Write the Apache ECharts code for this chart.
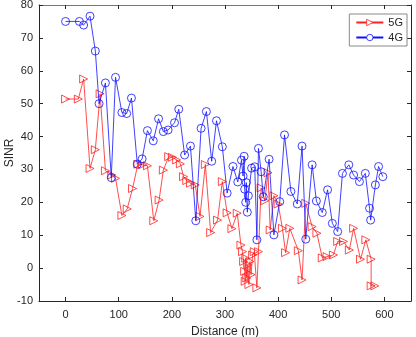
<!DOCTYPE html>
<html>
<head>
<meta charset="utf-8">
<script src="https://cdn.jsdelivr.net/npm/echarts@6/dist/echarts.min.js"></script>
<style>
  html, body { margin: 0; padding: 0; background: #fff; }
  #chart { width: 416px; height: 337px; }
</style>
</head>
<body>
<div id="chart"></div>
<script>
// 5G measurements (red, triangles)
const distance5G = [0, 24, 34, 46, 56, 65, 75, 87, 94, 106, 116, 126, 136, 145, 154, 166, 176, 184, 194, 201,
  209, 216, 222, 228, 235, 244, 253, 263, 273, 286, 295, 304, 313, 323, 330, 333, 335, 337, 338, 339,
  341, 343, 345, 347, 349, 352, 355, 360, 363, 368, 375, 381, 385, 392, 400, 408, 414, 422, 438, 445,
  452, 464, 473, 483, 492, 504, 512, 523, 534, 542, 555, 565, 575, 575, 582];
const sinr5G = [51.4, 51.4, 57.5, 30.3, 36, 53, 29.6, 28.3, 27.3, 16, 18, 24.2, 31.6, 31.4, 31.1, 14.4, 20.7, 29.8, 33.9, 33.7,
  32.9, 31.7, 27.8, 26.6, 25.8, 25.3, 15.7, 31.5, 10.8, 14.6, 26.3, 16.8, 12, 16.7, 7, 5, 2, -1, -4, 3,
  -3, 1, -5, 2, -2, 4, 5, -6, 5, 24.4, 20.5, 29, 11.6, 22, 19.5, 12.1, 4.7, 12.1, 5.3, -3.6,
  19.7, 12.6, 10.6, 3.1, 3.5, 4, 8.1, 8.1, 5.5, 12.1, 2.7, 8.6, 2.7, -5.4, -5.4];

// 4G measurements (blue, circles)
const distance4G = [0, 26, 34, 46, 56, 63, 75, 86, 94, 106, 115, 124, 135, 144, 154, 165, 175, 184, 193, 205,
  213, 224, 235, 245, 255, 265, 275, 284, 295, 304, 315, 324, 331, 334, 336, 337, 339, 340, 342, 344,
  350, 356, 360, 363, 368, 372, 383, 392, 403, 412, 424, 436, 445, 452, 464, 472, 483, 493, 502, 512,
  521, 533, 542, 553, 564, 572, 574, 583, 589, 597];
const sinr4G = [75, 75, 73.9, 76.6, 66, 50, 56.3, 27.5, 58, 47.3, 47, 51.7, 31.6, 33.2, 41.8, 38.7, 45.4, 41.5, 42, 44.2,
  48.3, 34.4, 37.1, 14.4, 42.5, 47.6, 32.5, 44.8, 36.9, 22.8, 30.9, 26.2, 32.8, 28, 34, 24, 20, 26, 17, 22,
  30.4, 30.8, 8.6, 36.4, 29.3, 21.7, 33.1, 10.1, 20.2, 40.5, 23.3, 19.5, 37.1, 8.8, 31.4, 20.4, 16.9, 23.8, 13.6, 11.1,
  28.8, 31.4, 28.3, 26.3, 28.8, 18.2, 14.6, 25.3, 30.9, 27.8];

const seriesNames = ["5G", "4G"];
const xTickValues = [0, 100, 200, 300, 400, 500, 600];
const yTicks = { min: -10, max: 80, interval: 10 };

const pairs = (xs, ys) => xs.map((x, i) => [x, ys[i]]);

const red = "#ff2020";
const blue = "#1010ff";
const clear = "rgba(255,255,255,0)";
const axisColor = "#262626";
const font = "Liberation Sans, Arial, sans-serif";
const labelStyle = { color: "#262626", fontSize: 11, fontFamily: font };

const chart = echarts.init(document.getElementById("chart"));
chart.setOption({
  animation: false,
  backgroundColor: "#fff",
  grid: { left: 39, right: 5, top: 5, bottom: 36, containLabel: false, outerBoundsMode: "none" },
  legend: {
    data: seriesNames,
    orient: "vertical",
    right: 9,
    top: 14,
    itemWidth: 27,
    itemHeight: 8,
    itemGap: 4,
    padding: [3, 4, 3, 6],
    itemStyle: { color: "#fff", borderColor: "inherit", borderWidth: 0.8 },
    borderColor: "#888",
    borderWidth: 1,
    borderRadius: 0,
    backgroundColor: "#fff",
    textStyle: labelStyle
  },
  xAxis: [
    {
      type: "value",
      min: -50, max: 650,
      name: "Distance (m)", nameLocation: "middle", nameGap: 25,
      nameTextStyle: { color: "#262626", fontSize: 12, fontFamily: font },
      axisLine: { onZero: false, lineStyle: { color: axisColor, width: 1 } },
      axisTick: { inside: true, length: 4, customValues: xTickValues, lineStyle: { color: axisColor } },
      axisLabel: Object.assign({ margin: 8, customValues: xTickValues }, labelStyle),
      splitLine: { show: false }
    },
    {
      type: "value", position: "top",
      min: -50, max: 650,
      axisLine: { show: true, onZero: false, lineStyle: { color: "#777", width: 1 } },
      axisTick: { inside: true, length: 4, customValues: xTickValues, lineStyle: { color: axisColor } },
      axisLabel: { show: false },
      splitLine: { show: false }
    }
  ],
  yAxis: [
    {
      type: "value",
      min: yTicks.min, max: yTicks.max, interval: yTicks.interval,
      name: "SINR", nameLocation: "middle", nameGap: 23, nameMoveOverlap: false,
      nameTextStyle: { color: "#262626", fontSize: 12, fontFamily: font },
      axisLine: { show: true, onZero: false, lineStyle: { color: axisColor, width: 1 } },
      axisTick: { show: true, inside: true, length: 4, lineStyle: { color: axisColor } },
      axisLabel: Object.assign({ margin: 6 }, labelStyle),
      splitLine: { show: false }
    },
    {
      type: "value", position: "right",
      min: yTicks.min, max: yTicks.max, interval: yTicks.interval,
      axisLine: { show: true, onZero: false, lineStyle: { color: axisColor, width: 1 } },
      axisTick: { show: true, inside: true, length: 4, lineStyle: { color: axisColor } },
      axisLabel: { show: false },
      splitLine: { show: false }
    }
  ],
  series: [
    {
      name: seriesNames[0],
      type: "line",
      data: pairs(distance5G, sinr5G),
      symbol: "triangle",
      symbolRotate: -90,
      symbolSize: 8,
      showAllSymbol: true,
      lineStyle: { color: red, width: 0.8 },
      itemStyle: { color: clear, borderColor: red, borderWidth: 0.8 },
      z: 2
    },
    {
      name: seriesNames[1],
      type: "line",
      data: pairs(distance4G, sinr4G),
      symbol: "circle",
      symbolSize: 8,
      showAllSymbol: true,
      lineStyle: { color: blue, width: 0.8 },
      itemStyle: { color: clear, borderColor: blue, borderWidth: 0.8 },
      z: 3
    }
  ]
});
</script>
</body>
</html>
